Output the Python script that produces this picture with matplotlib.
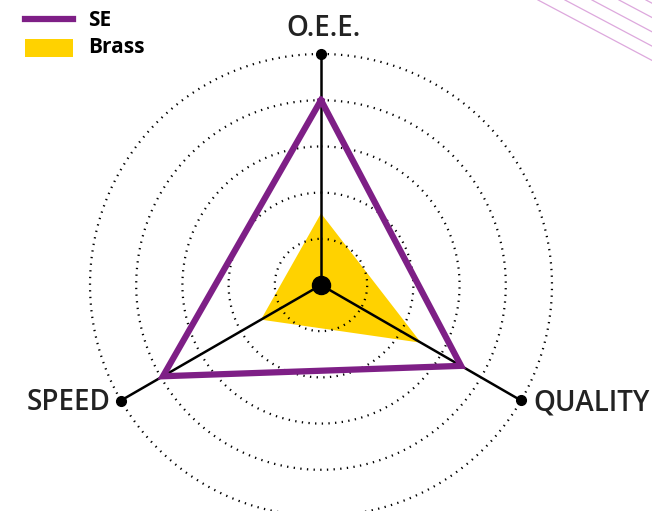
import numpy as np
import matplotlib.pyplot as plt
from matplotlib.lines import Line2D
from matplotlib.patches import Rectangle

plt.rcParams["font.family"] = ["Open Sans", "DejaVu Sans"]

# data
categories = ["O.E.E.", "QUALITY", "SPEED"]
se_values = [0.80, 0.70, 0.79]
brass_values = [0.31, 0.50, 0.30]
series_names = ["SE", "Brass"]
rings = [0.2, 0.4, 0.6, 0.8, 1.0]

purple = "#7E1F86"
yellow = "#FFD200"
txt = "#222222"

fig = plt.figure(figsize=(6.52, 5.11), dpi=100)
ax = fig.add_axes([90/652, -5/511, 462/652, 462/511], projection="polar")
ax.set_theta_zero_location("N")
ax.set_theta_direction(-1)
ax.set_ylim(0, 1)
ax.axis("off")

angles = np.deg2rad([0, 120, 240])
ang_c = np.append(angles, angles[0])

# brass fill
bv = brass_values + brass_values[:1]
ax.fill(ang_c, bv, color=yellow, lw=0, zorder=1)

# dotted rings
t = np.linspace(0, 2*np.pi, 400)
for r in rings:
    ax.plot(t, [r]*len(t), color="black", ls=(0, (0.6, 2.4)), lw=1.6, zorder=2, clip_on=False)

# spokes
for a in angles:
    ax.plot([a, a], [0, 1], color="black", lw=1.8, zorder=3, clip_on=False)
    ax.plot([a], [1], "o", color="black", ms=7, zorder=5, clip_on=False)
ax.plot([0], [0], "o", color="black", ms=13, zorder=5)

# SE line
sv = se_values + se_values[:1]
ax.plot(ang_c, sv, color=purple, lw=4.5, zorder=4, solid_joinstyle="miter", clip_on=False)

# axis labels
fig.text(323/652, 1 - 28/511, categories[0], ha="center", va="center", fontsize=20, color=txt, weight="semibold")
fig.text(592/652, 1 - 403/511, categories[1], ha="center", va="center", fontsize=20, color=txt, weight="semibold")
fig.text(69/652, 1 - 402/511, categories[2], ha="center", va="center", fontsize=20, color=txt, weight="semibold")

# legend
fig.add_artist(Line2D([25/652, 73/652], [1 - 19/511, 1 - 19/511], color=purple, lw=4.5))
fig.add_artist(Rectangle((25/652, 1 - 57/511), 48/652, 18/511, color=yellow, lw=0))
fig.text(88/652, 1 - 20/511, series_names[0], ha="left", va="center", fontsize=15, weight="bold", color="black")
fig.text(88/652, 1 - 47.5/511, series_names[1], ha="left", va="center", fontsize=15, weight="bold", color="black")

# decorative diagonal lines top right
for x0 in [538, 565, 592, 619, 646]:
    xs = np.array([x0, x0 + 230])
    ys = (xs - x0) * 0.53
    fig.add_artist(Line2D(xs/652, 1 - ys/511, color="#DDA8DD", lw=0.9))

fig.savefig("out.png", dpi=100)
